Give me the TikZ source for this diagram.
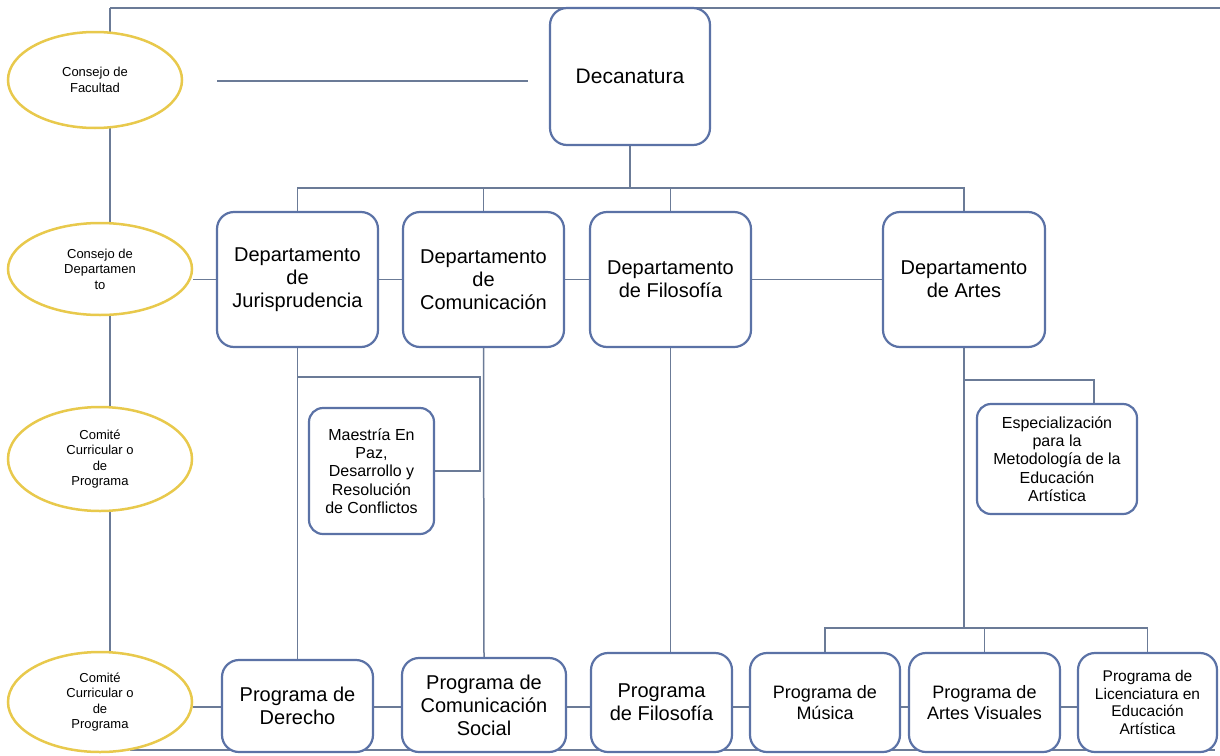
\documentclass[tikz,border=0pt]{standalone}
\usepackage{fontspec}
\setmainfont{Liberation Sans}
\usepackage{tikz}
\usetikzlibrary{backgrounds}
\usetikzlibrary{shapes,positioning,calc}
\definecolor{borde}{HTML}{5B72A6}
\definecolor{linea}{HTML}{6B7B97}
\definecolor{amarillo}{HTML}{E8C94C}

\begin{document}
\begin{tikzpicture}[x=1pt, y=-1pt,
		caja/.style={draw=borde, line width=2.2pt, rounded corners=17pt, fill=white, align=center, inner sep=0pt},
		elip/.style={ellipse, draw=amarillo, line width=2.5pt, fill=white, align=center, inner sep=0pt,
			font=\fontsize{13}{15.5}\selectfont},
		con/.style={draw=linea, line width=1.5pt}]
		\useasboundingbox (0,0) rectangle (1220,755);

		\node[elip, minimum width=174pt, minimum height=96pt] (e1) at (95,80) {Consejo de\\Facultad};
		\node[elip, minimum width=184pt, minimum height=92pt] (e2) at (100,269) {Consejo de\\Departamen\\to};
		\node[elip, minimum width=184pt, minimum height=104pt] (e3) at (100,459) {Comité\\Curricular o\\de\\Programa};
		\node[elip, minimum width=184pt, minimum height=100pt] (e4) at (100,702) {Comité\\Curricular o\\de\\Programa};

		\node[caja, minimum width=160pt, minimum height=137pt, font=\fontsize{21}{24}\selectfont] (deca) at (630,76.5) {Decanatura};

		\node[caja, minimum width=161pt, minimum height=135pt, font=\fontsize{20}{23}\selectfont] (jur) at (297.5,279.5) {Departamento\\de\\Jurisprudencia};
		\node[caja, minimum width=161pt, minimum height=135pt, font=\fontsize{20}{23}\selectfont] (com) at (483.5,279.5) {Departamento\\de\\Comunicación};
		\node[caja, minimum width=161pt, minimum height=135pt, font=\fontsize{20}{23}\selectfont] (fil) at (670.5,279.5) {Departamento\\de Filosofía};
		\node[caja, minimum width=162pt, minimum height=135pt, font=\fontsize{20}{23}\selectfont] (art) at (964,279.5) {Departamento\\de Artes};

		\node[caja, minimum width=125pt, minimum height=126pt, rounded corners=14pt, font=\fontsize{16}{18.3}\selectfont] (maes) at (371.5,471) {Maestría En\\Paz,\\Desarrollo y\\Resolución\\de Conflictos};
		\node[caja, minimum width=160pt, minimum height=110pt, rounded corners=14pt, font=\fontsize{16}{18.3}\selectfont] (esp) at (1057,459) {Especialización\\para la\\Metodología de la\\Educación\\Artística};

		\node[caja, minimum width=151pt, minimum height=92pt, font=\fontsize{20}{23}\selectfont] (der) at (297.5,706) {Programa de\\Derecho};
		\node[caja, minimum width=164pt, minimum height=94pt, font=\fontsize{20}{23}\selectfont] (cs) at (484,705) {Programa de\\Comunicación\\Social};
		\node[caja, minimum width=141pt, minimum height=99pt, font=\fontsize{20}{23}\selectfont] (pf) at (661.5,702.5) {Programa\\de Filosofía};
		\node[caja, minimum width=150pt, minimum height=99pt, font=\fontsize{18}{20.5}\selectfont] (mus) at (825,702.5) {Programa de\\Música};
		\node[caja, minimum width=151pt, minimum height=99pt, font=\fontsize{18}{20.5}\selectfont] (av) at (984.5,702.5) {Programa de\\Artes Visuales};
		\node[caja, minimum width=139pt, minimum height=99pt, font=\fontsize{15.5}{17.7}\selectfont] (lic) at (1147.5,702.5) {Programa de\\Licenciatura en\\Educación\\Artística};

		\coordinate (tl) at (110,8); \coordinate (tr) at (1220,8);
		\coordinate (bl) at (130,750); \coordinate (br) at (1215,750);
		\coordinate (fa) at (217,81); \coordinate (fb) at (528,81);
		\coordinate (bus) at (630,188); \coordinate (abus) at (964,628);
		\coordinate (mq) at (480,377); \coordinate (eq) at (1094,380);
		\coordinate (fila) at (0,707);

		\begin{scope}[on background layer]
			\draw[con] (tl) -- (tr); \draw[con] (bl) -- (br);
			\draw[con] (tl) -- (tl |- e4.north);
			\draw[con] (fa) -- (fb);
			\draw[con] (deca.south) -- (bus);
			\draw[con] (jur.north) -- (jur.north |- bus) -- (art.north |- bus) -- (art.north);
			\draw[con] (com.north) -- (com.north |- bus); \draw[con] (fil.north) -- (fil.north |- bus);
			\draw[con] (jur.west -| e2.east) -- (jur.west); \draw[con] (jur.east) -- (com.west);
			\draw[con] (com.east) -- (fil.west); \draw[con] (fil.east) -- (art.west);
			\draw[con] (jur.south) -- (der.north); \draw[con] (com.south) -- (cs.north);
			\draw[con] (fil.south) -- (fil.south |- pf.north);
			\draw[con] (jur.south |- mq) -- (mq) |- (maes.east);
			\draw[con] (art.south) -- (abus);
			\draw[con] (art.south |- eq) -- (eq) -- (eq |- esp.north);
			\draw[con] (mus.north) -- (mus.north |- abus) -- (lic.north |- abus) -- (lic.north);
			\draw[con] (av.north) -- (av.north |- abus);
			\draw[con] (e4.east |- fila) -- (der.west |- fila); \draw[con] (der.east |- fila) -- (cs.west |- fila);
			\draw[con] (cs.east |- fila) -- (pf.west |- fila); \draw[con] (pf.east |- fila) -- (mus.west |- fila);
			\draw[con] (mus.east |- fila) -- (av.west |- fila); \draw[con] (av.east |- fila) -- (lic.west |- fila);
		\end{scope}
	\end{tikzpicture}
\end{document}
